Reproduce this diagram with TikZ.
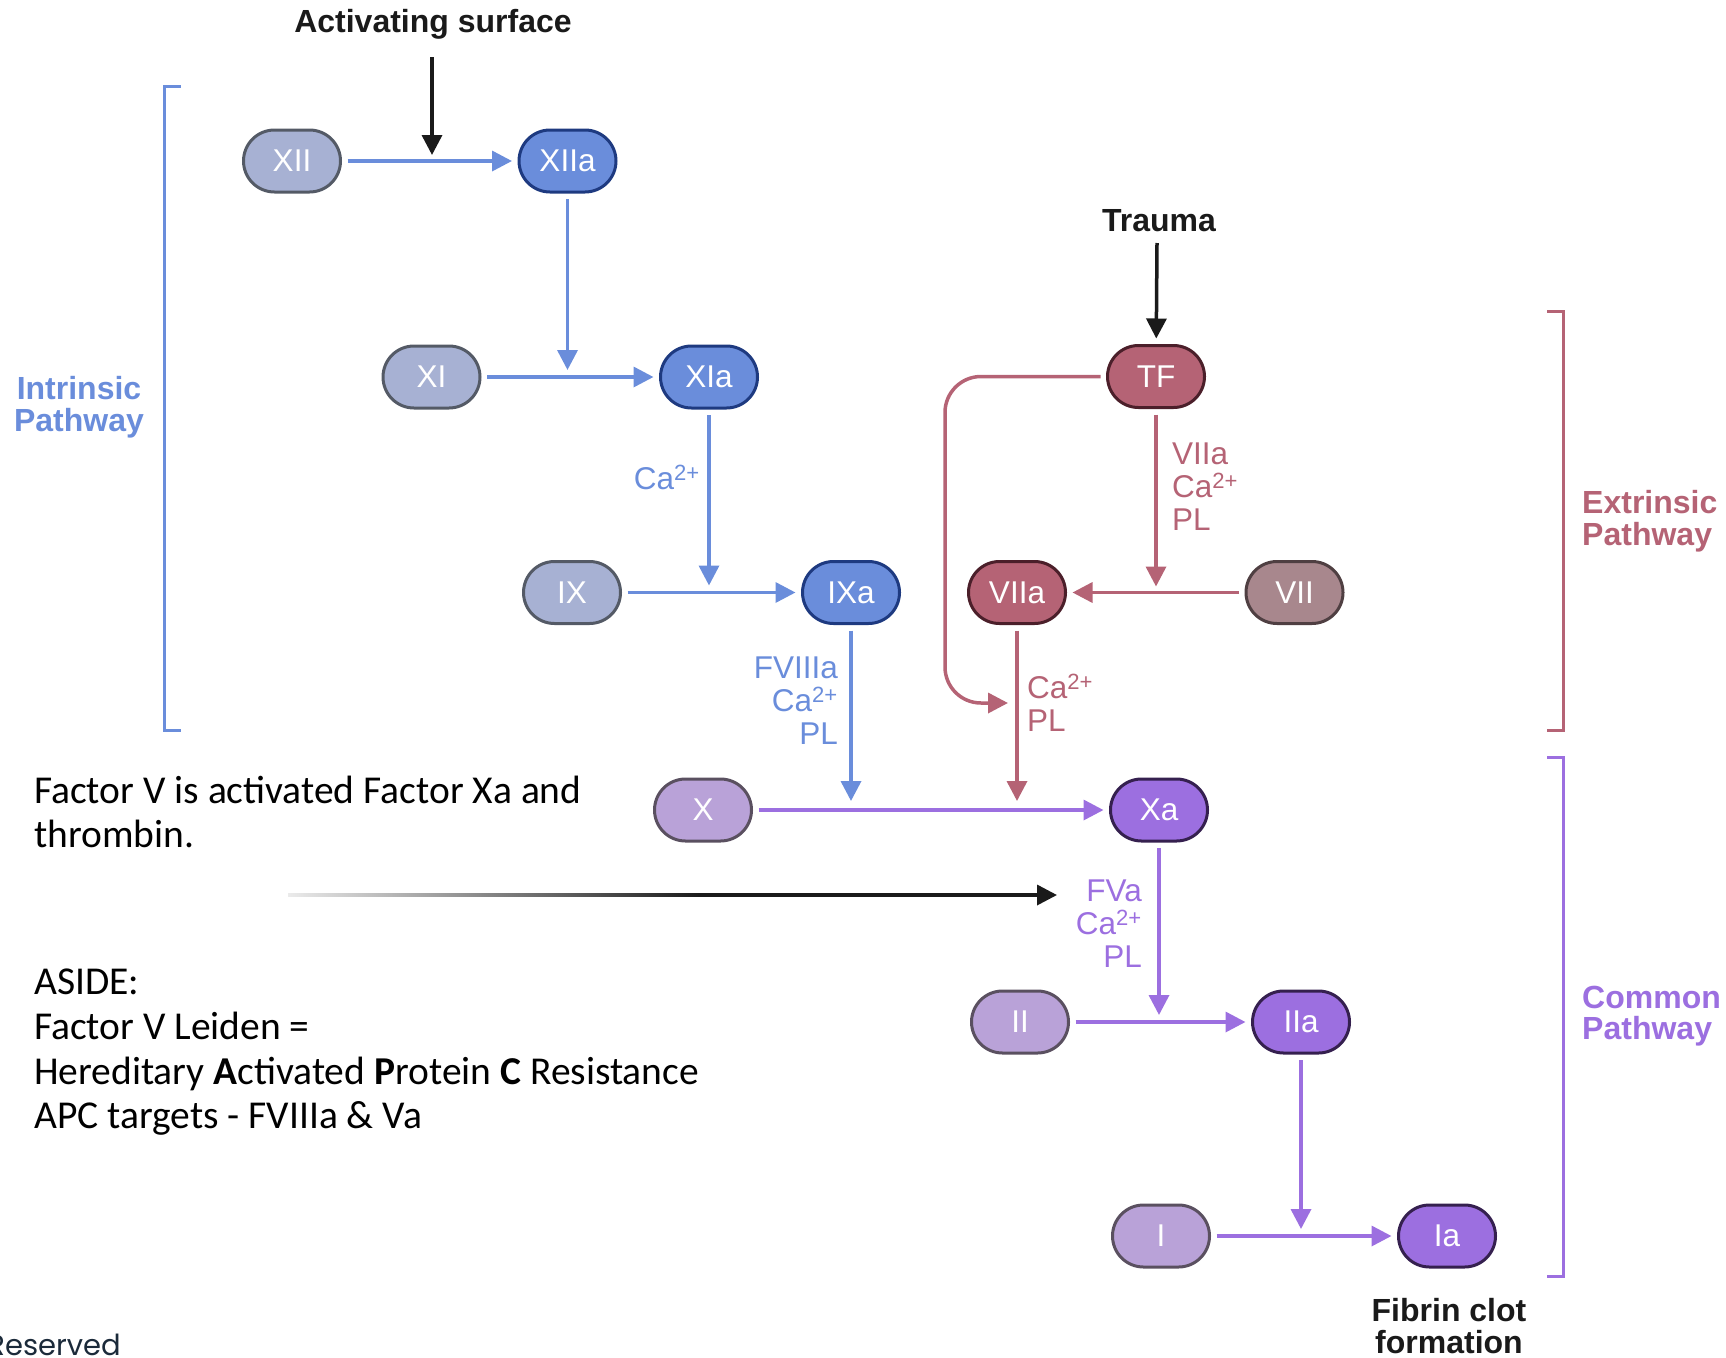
\documentclass[tikz,border=0pt]{standalone}
\usepackage{fontspec}
\setmainfont{Liberation Sans}
\newfontfamily\carfont{Carlito}
\newfontfamily\popfont{Poppins}
\usetikzlibrary{arrows.meta}
\definecolor{bluA}{HTML}{6A8DDB}
\definecolor{bluAb}{HTML}{1E3A80}
\definecolor{bluI}{HTML}{A7B1D3}
\definecolor{grayb}{HTML}{545A66}
\definecolor{roseA}{HTML}{B56375}
\definecolor{roseAb}{HTML}{4B1F2A}
\definecolor{roseI}{HTML}{A8878D}
\definecolor{roseIb}{HTML}{4F3F42}
\definecolor{purA}{HTML}{9C6FE0}
\definecolor{purAb}{HTML}{35204F}
\definecolor{purI}{HTML}{B9A2D8}
\definecolor{purIb}{HTML}{5A5060}
\definecolor{inkk}{HTML}{1A1A1A}
\definecolor{navyt}{HTML}{1B2A3A}
\newcommand{\sq}{\textsuperscript{2+}}
\tikzset{
  fac/.style={rectangle, rounded corners=31pt, minimum width=97pt, minimum height=62pt,
    inner sep=0pt, line width=3pt, outer sep=7pt, text=white, font=\fontsize{31.5}{33}\selectfont},
  binact/.style={fac, fill=bluI, draw=grayb},
  bact/.style={fac, fill=bluA, draw=bluAb},
  ract/.style={fac, fill=roseA, draw=roseAb},
  rinact/.style={fac, fill=roseI, draw=roseIb},
  pact/.style={fac, fill=purA, draw=purAb},
  pinact/.style={fac, fill=purI, draw=purIb},
  tip/.style={-{Triangle[length=20pt,width=20pt]}},
  barrow/.style={tip, draw=bluA, line width=3.5pt},
  rarrow/.style={tip, draw=roseA, line width=3.5pt},
  parrow/.style={tip, draw=purA, line width=3.5pt},
  karrow/.style={tip, draw=inkk, line width=3.5pt},
  lab/.style={inner sep=0pt, font=\fontsize{31.5}{33}\selectfont},
  blab/.style={inner sep=0pt, font=\bfseries\fontsize{32}{31.5}\selectfont},
  note/.style={inner sep=0pt, anchor=base west, font=\carfont\fontsize{39.5}{45}\selectfont},
  brk/.style={line width=3pt}
}
\begin{document}
\begin{tikzpicture}[x=1pt,y=-1pt]
\useasboundingbox (0,0) rectangle (1726,1357);

% factor nodes
\node[binact] (XII)  at (292,161) {XII};
\node[bact]   (XIIa) at (567.5,161) {XIIa};
\node[binact] (XI)   at (431.5,377) {XI};
\node[bact]   (XIa)  at (709,377) {XIa};
\node[binact] (IX)   at (572,592.5) {IX};
\node[bact]   (IXa)  at (851,592.5) {IXa};
\node[ract]   (TF)   at (1156,376.5) {TF};
\node[ract]   (VIIa) at (1017,592.5) {VIIa};
\node[rinact] (VII)  at (1294.5,592.5) {VII};
\node[pinact] (X)    at (703,810) {X};
\node[pact]   (Xa)   at (1159,810) {Xa};
\node[pinact] (II)   at (1020,1022) {II};
\node[pact]   (IIa)  at (1301,1022) {IIa};
\node[pinact] (I)    at (1161,1236) {I};
\node[pact]   (Ia)   at (1447,1236) {Ia};

% titles
\node[blab, text=inkk] (act) at (433,24) {Activating surface};
\node[blab, text=inkk] (trauma) at (1159,221) {Trauma};
\node[blab, text=inkk, align=center, font=\bfseries\fontsize{32}{32}\selectfont] (fibrin) at (1449,1326) {Fibrin clot\\formation};
\node[blab, text=bluA, align=center] (intr) at (79,407) {Intrinsic\\Pathway};
\node[blab, text=roseA, align=left, anchor=west] (extr) at (1582,521) {Extrinsic\\Pathway};
\node[blab, text=purA, align=left, anchor=west] (comm) at (1582,1016) {Common\\Pathway};

% black inputs
\coordinate (actS) at (432,57);
\coordinate (actE) at (432,155);
\draw[karrow] (actS) -- (actE);
\coordinate (trS) at (1157,243);
\draw[karrow] (trS) -- (TF);

% intrinsic
\draw[barrow] (XII) -- (XIIa);
\draw[barrow, shorten >=7pt] (XIIa) -- (XIIa |- XI);
\draw[barrow] (XI) -- (XIa);
\draw[barrow, shorten >=7pt] (XIa) -- (XIa |- IX);
\node[lab, text=bluA, anchor=east] (l1) at (700,477) {Ca\sq};
\draw[barrow] (IX) -- (IXa);
\draw[barrow, shorten >=9pt] (IXa) -- (IXa |- X);
\node[lab, text=bluA, anchor=east, align=right] (l2) at (838,701) {FVIIIa\\Ca\sq\\PL};

% extrinsic
\draw[rarrow, shorten >=6pt] (TF) -- (TF |- VII);
\node[lab, text=roseA, anchor=west, align=left] (l3) at (1172,487) {VIIa\\Ca\sq\\PL};
\draw[rarrow] (VII) -- (VIIa);
\coordinate (lpA) at (945,376.5);
\coordinate (lpB) at (945,703);
\coordinate (lpC) at (1008,703);
\draw[rarrow, rounded corners=36pt] (TF) -- (lpA) -- (lpB) -- (lpC);
\draw[rarrow, shorten >=9pt] (VIIa) -- (VIIa |- X);
\node[lab, text=roseA, anchor=west, align=left] (l4) at (1027,703) {Ca\sq\\PL};

% common
\draw[parrow] (X) -- (Xa);
\draw[parrow, shorten >=7pt] (Xa) -- (Xa |- II);
\node[lab, text=purA, anchor=east, align=right] (l5) at (1142,924) {FVa\\Ca\sq\\PL};
\draw[parrow] (II) -- (IIa);
\draw[parrow, shorten >=7pt] (IIa) -- (IIa |- I);
\draw[parrow] (I) -- (Ia);

% gradient arrow
\coordinate (gA) at (288,895);
\coordinate (gB) at (700,895);
\coordinate (gC) at (1057,895);
\shade[left color=white!92!black, right color=inkk] (288,893.25) rectangle (700.5,896.75);
\draw[karrow] (gB) -- (gC);

% brackets
\draw[brk, bluA] (180.5,86) -- (164,86) -- (164,730) -- (180.5,730);
\draw[brk, roseA] (1547,311.5) -- (1563,311.5) -- (1563,730) -- (1547,730);
\draw[brk, purA] (1547,757) -- (1563,757) -- (1563,1276) -- (1547,1276);

% notes
\node[note] (n1) at (34,803) {Factor V is activated Factor Xa and};
\node[note] (n2) at (34,847.5) {thrombin.};
\node[note] (n3) at (34,994) {ASIDE:};
\node[note] (n4) at (34,1039) {Factor V Leiden =};
\node[note] (n5) at (34,1084) {Hereditary \textbf{A}ctivated \textbf{P}rotein \textbf{C} Resistance};
\node[note] (n6) at (34,1128) {APC targets - FVIIIa \& Va};

\node[inner sep=0pt, anchor=base east, text=navyt, font=\popfont\fontsize{29}{30}\selectfont] (res) at (121,1355) {Reserved};
\end{tikzpicture}
\end{document}
